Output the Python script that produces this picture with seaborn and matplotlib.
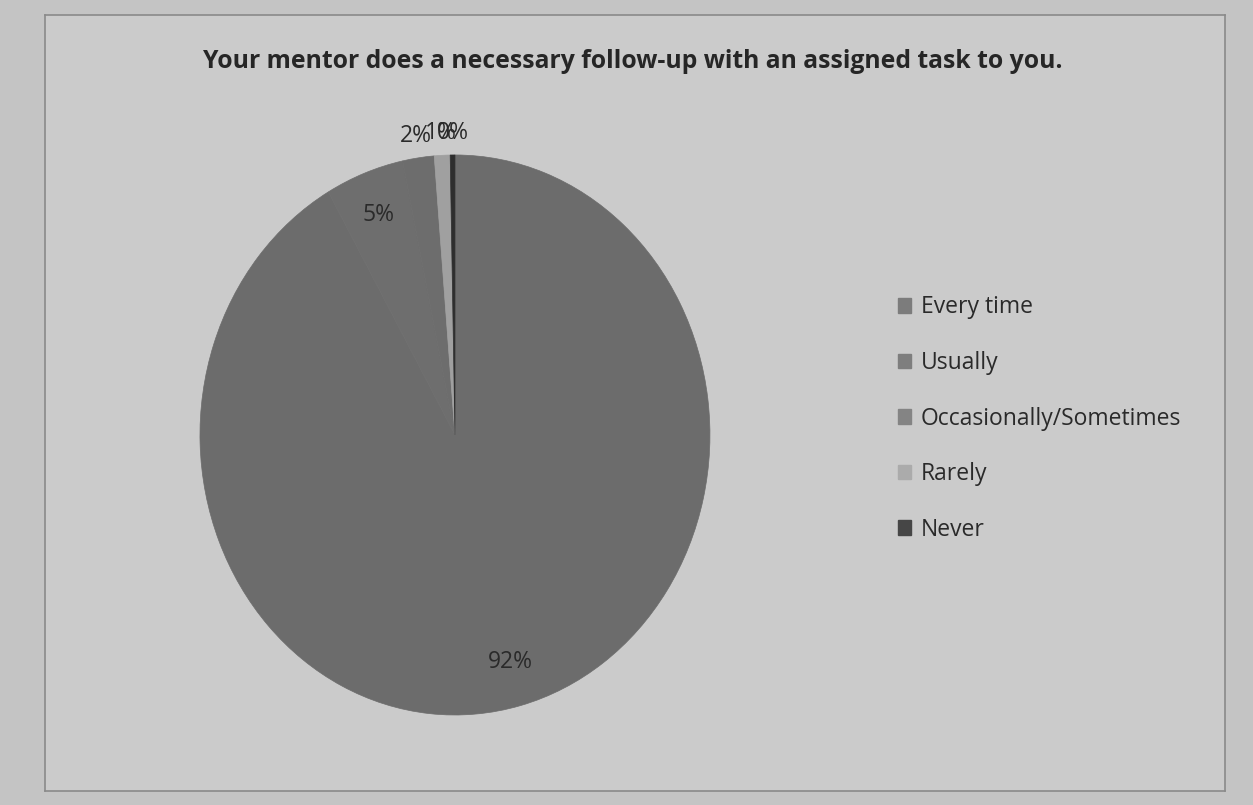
import numpy as np
import matplotlib
matplotlib.use("Agg")
import matplotlib.pyplot as plt
import seaborn as sns

categories = ["Every time", "Usually", "Occasionally/Sometimes", "Rarely", "Never"]
values = [92, 5, 2, 1, 0.3]
pct_labels = ["92%", "5%", "2%", "1%", "0%"]
colors = ["#6c6c6c", "#6e6e6e", "#6d6d6d", "#a0a0a0", "#2e2e2e"]
legend_colors = ["#7c7c7c", "#7e7e7e", "#848484", "#ababab", "#464646"]
title = "Your mentor does a necessary follow-up with an assigned task to you."

sns.set_theme(style="white")
plt.rcParams["font.family"] = ["Open Sans", "DejaVu Sans"]

fig = plt.figure(figsize=(12.53, 8.05), dpi=100, facecolor="#c4c4c4")
frame = fig.add_axes([0.036, 0.018, 0.942, 0.963])
frame.set_facecolor("#cbcbcb")
frame.set_xticks([]); frame.set_yticks([])
for s in frame.spines.values():
    s.set_color("#8a8a8a"); s.set_linewidth(1.2)

ax = fig.add_axes([0.1596, 0.1118, 0.407, 0.6957])
ax.set_facecolor("none")
wedges, _ = ax.pie(values, colors=colors, startangle=90, counterclock=False,
                   wedgeprops=dict(linewidth=0))
for w in wedges:
    w.set_edgecolor(w.get_facecolor())
    w.set_linewidth(0.5)
ax.set_aspect("auto")
ax.set_xlim(-1.0, 1.0); ax.set_ylim(-1.0, 1.0)

total = sum(values)
for w, lab, v in zip(wedges, pct_labels, values):
    mid = np.deg2rad((w.theta1 + w.theta2) / 2)
    r = 0.84 if v / total > 0.03 else 1.08
    ax.text(r * np.cos(mid), r * np.sin(mid), lab, ha="center", va="center",
            fontsize=16.5, color="#2a2a2a", clip_on=False)

fig.text(0.505, 0.923, title, ha="center", va="center", fontsize=17.8,
         fontweight="bold", color="#262626")

handles = [plt.Rectangle((0, 0), 1, 1, color=c) for c in legend_colors]
leg = fig.legend(handles, categories, loc="center left", bbox_to_anchor=(0.700, 0.480),
                 frameon=False, fontsize=16.5, labelspacing=1.38, handlelength=0.6,
                 handleheight=0.6, handletextpad=0.4)
for t in leg.get_texts():
    t.set_color("#2a2a2a")

fig.savefig("out.png", dpi=100, facecolor=fig.get_facecolor())
